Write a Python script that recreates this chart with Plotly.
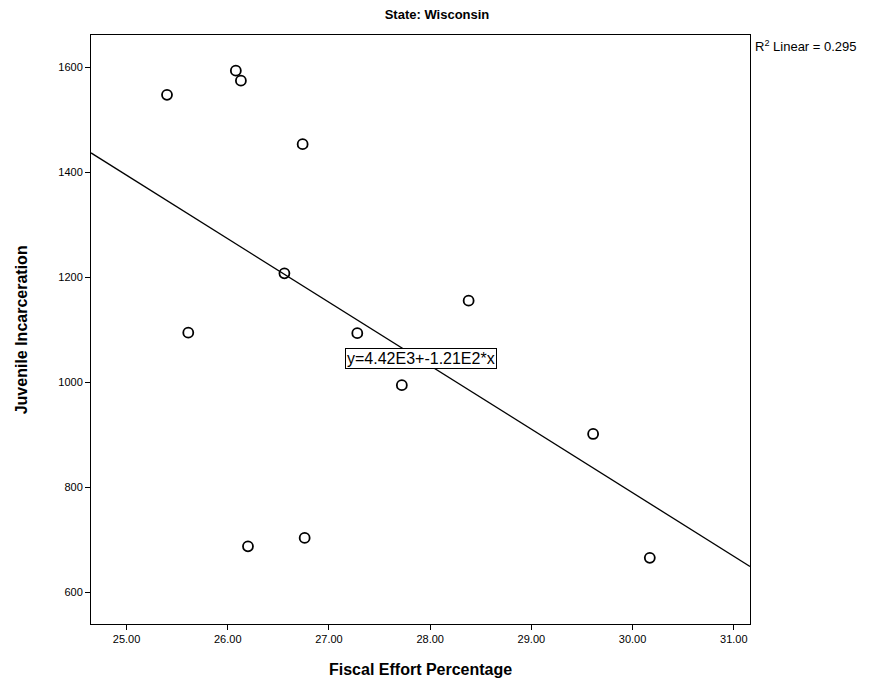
import numpy as np
import plotly.graph_objects as go

# Data
fiscal_effort = [25.40, 26.08, 26.13, 26.74, 26.56, 25.61, 27.28, 28.38, 27.72, 29.61, 30.17, 26.20, 26.76]
juvenile_incarceration = [1548, 1594, 1575, 1454, 1208, 1095, 1094, 1156, 995, 902, 666, 688, 704]

# Fit line as reported in the chart
intercept = 4.42e3
slope = -1.21e2
r2_text = "R<sup>2</sup> Linear = 0.295"
eq_text = "y=4.42E3+-1.21E2*x"

x_range = [24.649, 31.16]
y_range = [540, 1662]

line_x = np.array(x_range)
line_y = intercept + slope * line_x

FONT = "Liberation Sans, Arial, sans-serif"

fig = go.Figure()
fig.add_trace(go.Scatter(
    x=line_x, y=line_y, mode="lines",
    line=dict(color="black", width=1.3), showlegend=False, hoverinfo="skip"))
fig.add_trace(go.Scatter(
    x=fiscal_effort, y=juvenile_incarceration, mode="markers",
    marker=dict(symbol="circle-open", size=10, color="black", line=dict(width=1.8)),
    showlegend=False))

fig.add_annotation(x=27.91, y=1045, xref="x", yref="y", text=eq_text, showarrow=False,
                   font=dict(family=FONT, size=16, color="black"),
                   bordercolor="black", borderwidth=1, borderpad=1, bgcolor="white")
fig.add_annotation(x=1.0, y=1.0, xref="paper", yref="paper", text=r2_text, showarrow=False,
                   xanchor="left", yanchor="top", xshift=3, yshift=-1,
                   font=dict(family=FONT, size=13, color="black"))
fig.add_annotation(x=0.5, y=-0.078, xref="paper", yref="paper", text="<b>Fiscal Effort Percentage</b>",
                   showarrow=False, xanchor="center", yanchor="middle",
                   font=dict(family=FONT, size=16, color="black"))
fig.add_annotation(x=-0.105, y=0.5, xref="paper", yref="paper", text="<b>Juvenile Incarceration</b>",
                   showarrow=False, xanchor="center", yanchor="middle", textangle=-90,
                   font=dict(family=FONT, size=16, color="black"))

fig.update_layout(
    width=863, height=682,
    margin=dict(l=83, r=121, t=27, b=66),
    paper_bgcolor="white", plot_bgcolor="white",
    title=dict(text="<b>State: Wisconsin</b>", x=(429) / 863, xanchor="center",
               y=1 - 6 / 682, yanchor="middle", yref="container",
               font=dict(family=FONT, size=13, color="black")),
    font=dict(family=FONT, color="black"),
)
fig.update_xaxes(range=x_range, tickmode="array", tickvals=[25, 26, 27, 28, 29, 30, 31],
                 tickformat=".2f", ticks="outside", ticklen=5, tickcolor="black",
                 showgrid=False, zeroline=False, showline=True, linecolor="black",
                 linewidth=1, mirror=True, tickfont=dict(size=11, family=FONT, color="black"))
fig.update_yaxes(range=y_range, tickmode="array", tickvals=[600, 800, 1000, 1200, 1400, 1600],
                 ticks="outside", ticklen=5, tickcolor="black",
                 showgrid=False, zeroline=False, showline=True, linecolor="black",
                 linewidth=1, mirror=True, tickfont=dict(size=11, family=FONT, color="black"))

fig.write_html("out.html")
